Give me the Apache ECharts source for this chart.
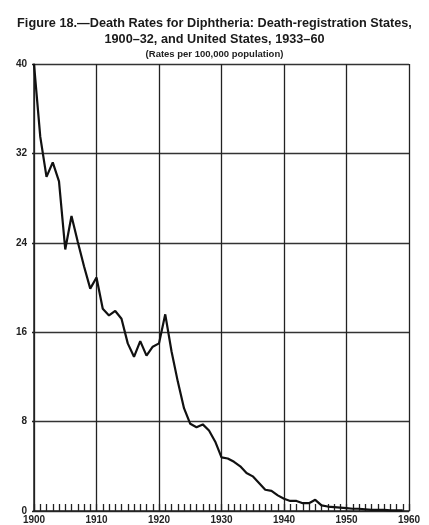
<!DOCTYPE html>
<html>
<head>
<meta charset="utf-8">
<script src="https://cdn.jsdelivr.net/npm/echarts@6/dist/echarts.min.js"></script>
<style>
html,body{margin:0;padding:0;background:#fff;}
#c{width:429px;height:525px;}
</style>
</head>
<body>
<div id="c"></div>
<script>
var years = [];
for (var y = 1900; y <= 1959; y++) years.push(y);
var rates = [
  40.0, 33.5, 29.9, 31.2, 29.5, 23.4, 26.4, 24.1, 21.9, 19.9,
  20.9, 18.1, 17.5, 17.9, 17.2, 15.0, 13.8, 15.2, 13.9, 14.7,
  15.0, 17.6, 14.3, 11.6, 9.2, 7.8, 7.5, 7.75, 7.2, 6.2,
  4.8, 4.7, 4.4, 4.0, 3.4, 3.1, 2.5, 1.9, 1.8, 1.4,
  1.1, 0.9, 0.9, 0.7, 0.7, 1.0, 0.5, 0.4, 0.35, 0.3,
  0.25, 0.2, 0.2, 0.15, 0.1, 0.1, 0.1, 0.05, 0.05, 0.05
];
var yTicks = [0, 8, 16, 24, 32, 40];
var xTicks = [1900, 1910, 1920, 1930, 1940, 1950, 1960];
var titleLines = ['Figure 18.\u2014Death Rates for Diphtheria: Death-registration States,', '1900\u201332, and United States, 1933\u201360'];
var subtitle = '(Rates per 100,000 population)';

var data = years.map(function (yr, i) { return [yr, rates[i]]; });
var chart = echarts.init(document.getElementById('c'));
var ff = '"Liberation Sans", Arial, sans-serif';
chart.setOption({
  animation: false,
  backgroundColor: '#fff',
  title: [
    { text: titleLines.join('\n'), left: 'center', top: 10,
      textStyle: { fontFamily: ff, fontSize: 12.7, fontWeight: 'bold', color: '#1a1a1a', lineHeight: 16 } },
    { text: subtitle, left: 'center', top: 44,
      textStyle: { fontFamily: ff, fontSize: 9.5, fontWeight: 'bold', color: '#222' } }
  ],
  grid: { left: 34, right: 20, top: 64, bottom: 12, containLabel: false },
  xAxis: {
    type: 'value', min: xTicks[0], max: xTicks[xTicks.length - 1], interval: 10,
    axisLine: { show: true, lineStyle: { color: '#222', width: 1.5 } },
    axisTick: { show: true, inside: true, length: 7, lineStyle: { color: '#222', width: 1.3 } },
    minorTick: { show: true, splitNumber: 10, length: 7, lineStyle: { color: '#222', width: 1.3 } },
    splitLine: { show: true, lineStyle: { color: '#222', width: 1.3 } },
    axisLabel: { show: true, margin: 4, fontFamily: ff, fontSize: 10, fontWeight: 'bold', color: '#222',
      formatter: function (v) { return String(v); } }
  },
  yAxis: {
    type: 'value', min: yTicks[0], max: yTicks[yTicks.length - 1], interval: 8,
    axisLine: { show: true, lineStyle: { color: '#222', width: 1.5 } },
    axisTick: { show: true, length: 2, lineStyle: { color: '#222', width: 1.3 } },
    splitLine: { show: true, lineStyle: { color: '#333', width: 1.3 } },
    axisLabel: { margin: 7, fontFamily: ff, fontSize: 10, fontWeight: 'bold', color: '#222' }
  },
  series: [{
    type: 'line', data: data, showSymbol: false, smooth: false,
    lineStyle: { color: '#111', width: 2.2 }, clip: false
  }]
});
</script>
</body>
</html>
